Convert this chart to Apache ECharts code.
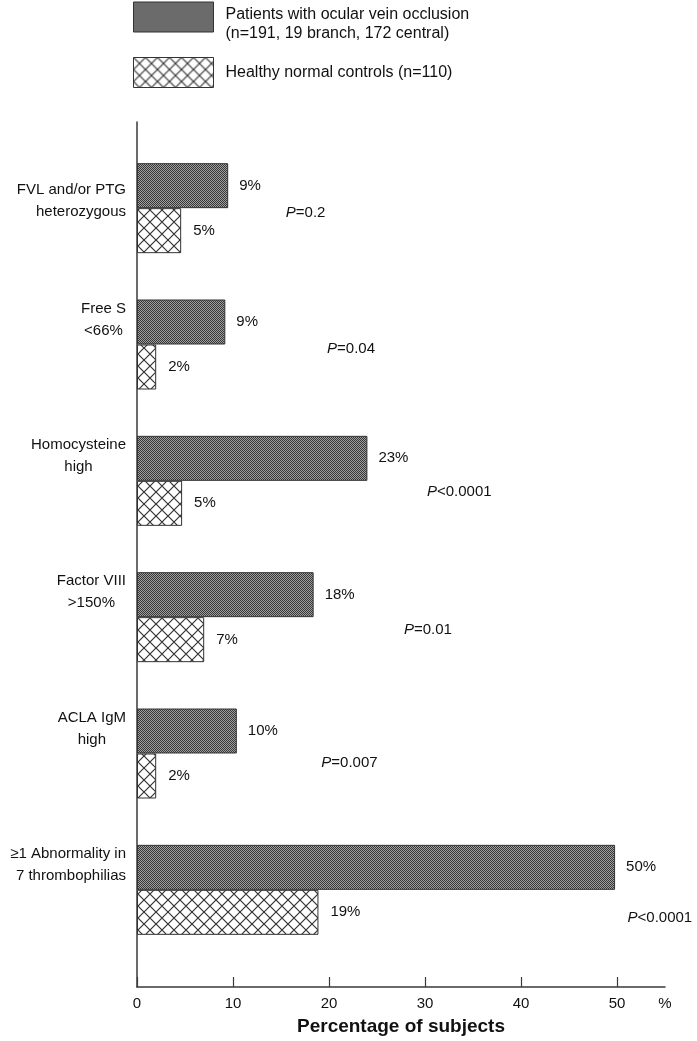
<!DOCTYPE html>
<html>
<head>
<meta charset="utf-8">
<script src="https://cdn.jsdelivr.net/npm/echarts@6/dist/echarts.min.js"></script>
<style>html,body{margin:0;padding:0;background:#fff}#c{width:697px;height:1041px}</style>
</head>
<body>
<div id="c"></div>
<script>
// ---- data ----
const categories = ['FVL and/or PTG\nheterozygous', 'Free S\n<66%', 'Homocysteine\nhigh', 'Factor VIII\n>150%', 'ACLA IgM\nhigh', '≥1 Abnormality in\n7 thrombophilias'];
const patientValues = [9.5, 9.2, 24.0, 18.4, 10.4, 49.8];
const controlValues = [4.6, 2.0, 4.7, 7.0, 2.0, 18.9];
const patientLabels = ['9%', '9%', '23%', '18%', '10%', '50%'];
const controlLabels = ['5%', '2%', '5%', '7%', '2%', '19%'];
const pValueOps = ['=', '=', '<', '=', '=', '<'];
const pValueNums = ['0.2', '0.04', '0.0001', '0.01', '0.007', '0.0001'];
const xTickValues = [0, 10, 20, 30, 40, 50];
const seriesNames = ['Patients with ocular vein occlusion\n(n=191, 19 branch, 172 central)', 'Healthy normal controls (n=110)'];

// ---- layout (annotation placement, not data) ----
const pLabelX = [15.5, 19.8, 30.2, 27.8, 19.2, 51.1];
const pLabelDy = [5, 4, 11, 13, 9, 28];
const centeredLabel = [false, true, true, true, true, false];
const labelPadBottom = [14, 50, 50, 50, 50, 50];

const FONT = '"Liberation Sans", Arial, sans-serif';
const TXT = '#111111';

function makeDotPattern() {
  const c = document.createElement('canvas');
  c.width = 2; c.height = 2;
  const g = c.getContext('2d');
  g.fillStyle = '#a0a0a0'; g.fillRect(0, 0, 2, 2);
  g.fillStyle = '#363636'; g.fillRect(0, 0, 1, 1); g.fillRect(1, 1, 1, 1);
  return c;
}
function makeCrossPattern() {
  const s = 12;
  const c = document.createElement('canvas');
  c.width = s; c.height = s;
  const g = c.getContext('2d');
  g.fillStyle = '#ffffff'; g.fillRect(0, 0, s, s);
  g.strokeStyle = '#333'; g.lineWidth = 1.2;
  g.beginPath();
  g.moveTo(0, 0); g.lineTo(s, s);
  g.moveTo(s, 0); g.lineTo(0, s);
  g.stroke();
  return c;
}
const dotFill = { image: makeDotPattern(), repeat: 'repeat' };
const crossFill = { image: makeCrossPattern(), repeat: 'repeat' };

const chart = echarts.init(document.getElementById('c'), null, { renderer: 'canvas' });

const yLabels = categories.map((c, i) => ({
  value: c,
  textStyle: { padding: [0, 0, labelPadBottom[i], 0] }
}));

const legendRich = {
  s: { fontSize: 10, lineHeight: 14, fontFamily: FONT },
  t: { fontFamily: FONT, fontSize: 16, color: TXT, lineHeight: 19, padding: [0, 0, 0, 7] }
};

const option = {
  animation: false,
  backgroundColor: '#ffffff',
  legend: [
    {
      data: [seriesNames[0]], left: 133, top: -7, padding: 0,
      itemWidth: 80, itemHeight: 30, itemGap: 0, selectedMode: false,
      icon: 'rect',
      itemStyle: { borderColor: '#333', borderWidth: 1 },
      formatter: name => '{s| }\n' + name.split('\n').map(s => '{t|' + s + '}').join('\n'),
      textStyle: { fontFamily: FONT, fontSize: 16, color: TXT, rich: legendRich }
    },
    {
      data: [seriesNames[1]], left: 133, top: 57, padding: 0,
      itemWidth: 80, itemHeight: 30, selectedMode: false,
      icon: 'rect',
      itemStyle: { borderColor: '#333', borderWidth: 1 },
      formatter: name => '{t|' + name + '}',
      textStyle: { fontFamily: FONT, fontSize: 16, color: TXT, rich: legendRich }
    }
  ],
  grid: [
    { left: 137, right: 32, top: 140, bottom: 83, containLabel: false },
    { left: 137, right: 32, top: 122, bottom: 54, containLabel: false }
  ],
  xAxis: [
    { gridIndex: 0, type: 'value', min: 0, max: 55, show: false },
    {
      gridIndex: 1, type: 'value', min: 0, max: 55,
      axisLine: { show: true, lineStyle: { color: '#3a3a3a', width: 1.5 } },
      axisTick: { show: true, inside: true, length: 10, customValues: xTickValues, lineStyle: { color: '#3a3a3a', width: 1.2 } },
      axisLabel: {
        customValues: xTickValues.concat([55]),
        formatter: v => (v === 55 ? '%' : String(v)),
        fontFamily: FONT, fontSize: 15, color: TXT, margin: 9
      },
      splitLine: { show: false },
      name: 'Percentage of subjects', nameLocation: 'middle', nameGap: 30,
      nameTextStyle: { fontFamily: FONT, fontSize: 19, fontWeight: 'bold', color: '#111' }
    }
  ],
  yAxis: [
    {
      gridIndex: 0, type: 'category', data: yLabels, inverse: true,
      axisLine: { show: false }, axisTick: { show: false },
      axisLabel: {
        margin: 11, fontFamily: FONT, fontSize: 15, color: TXT, lineHeight: 22,
        formatter: (v, i) => centeredLabel[i] ? v.split('\n').map(s => '{c|' + s + '}').join('\n') : v,
        rich: { c: { align: 'center', fontFamily: FONT, fontSize: 15, color: TXT, lineHeight: 22 } }
      },
      splitLine: { show: false }
    },
    {
      gridIndex: 1, type: 'value', min: 0, max: 1,
      axisLine: { show: true, lineStyle: { color: '#3a3a3a', width: 1.5 } },
      axisTick: { show: false }, axisLabel: { show: false }, splitLine: { show: false }
    }
  ],
  series: [
    {
      name: seriesNames[0], type: 'bar', xAxisIndex: 0, yAxisIndex: 0,
      data: patientValues, barWidth: 45, barGap: '0%',
      itemStyle: { color: dotFill, borderColor: '#333', borderWidth: 1 },
      label: {
        show: true, position: 'right', distance: 11,
        formatter: p => patientLabels[p.dataIndex],
        fontFamily: FONT, fontSize: 15, color: TXT
      }
    },
    {
      name: seriesNames[1], type: 'bar', xAxisIndex: 0, yAxisIndex: 0,
      data: controlValues, barWidth: 45, barGap: '0%',
      itemStyle: { color: crossFill, borderColor: '#333', borderWidth: 1 },
      label: {
        show: true, position: 'right', distance: 12,
        formatter: p => controlLabels[p.dataIndex],
        fontFamily: FONT, fontSize: 15, color: TXT
      }
    },
    {
      name: 'pvalues', type: 'scatter', xAxisIndex: 0, yAxisIndex: 0,
      symbolSize: 0, silent: true,
      itemStyle: { opacity: 1, color: TXT },
      data: categories.map((c, i) => ({
        value: [pLabelX[i], i],
        label: { offset: [0, pLabelDy[i]] }
      })),
      label: {
        show: true, position: 'right', distance: 0, opacity: 1, color: TXT,
        formatter: p => '{i|P}{n|' + pValueOps[p.dataIndex] + pValueNums[p.dataIndex] + '}',
        rich: {
          i: { fontFamily: FONT, fontSize: 15, fontStyle: 'italic', color: TXT },
          n: { fontFamily: FONT, fontSize: 15, color: TXT }
        }
      }
    }
  ]
};
chart.setOption(option);
</script>
</body>
</html>
